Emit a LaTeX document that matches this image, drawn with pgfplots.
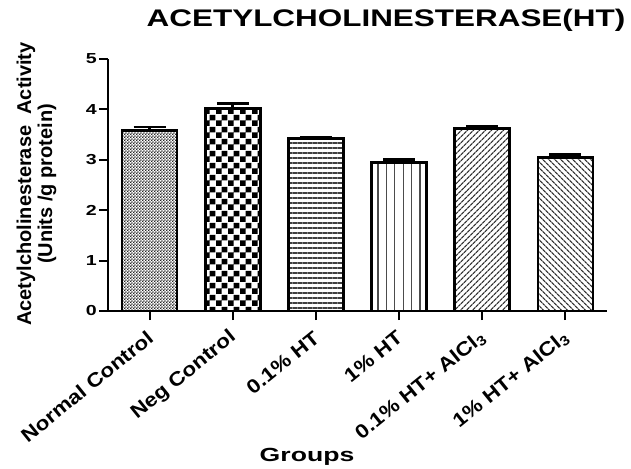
\documentclass[border=0pt]{standalone}
\usepackage{pgfplots}
\pgfplotsset{compat=1.18}
\usepackage{fontspec}
\setmainfont{Liberation Sans}
\usetikzlibrary{patterns,patterns.meta}

\pgfdeclarepattern{
  name=fineCheck, type=uncolored,
  bottom left={\pgfpoint{0pt}{0pt}}, top right={\pgfpoint{3.2pt}{3.2pt}},
  tile size={\pgfpoint{3.2pt}{3.2pt}},
  code={
    \pgfpathrectangle{\pgfpoint{0pt}{0pt}}{\pgfpoint{1.6pt}{1.6pt}}
    \pgfpathrectangle{\pgfpoint{1.6pt}{1.6pt}}{\pgfpoint{1.6pt}{1.6pt}}
    \pgfusepath{fill}
  }
}
\pgfdeclarepattern{
  name=coarseCheck, type=uncolored,
  bottom left={\pgfpoint{0pt}{0pt}}, top right={\pgfpoint{12pt}{11.6pt}},
  tile size={\pgfpoint{12pt}{11.6pt}},
  code={
    \pgfpathrectangle{\pgfpoint{0pt}{0pt}}{\pgfpoint{6pt}{5.8pt}}
    \pgfpathrectangle{\pgfpoint{6pt}{5.8pt}}{\pgfpoint{6pt}{5.8pt}}
    \pgfusepath{fill}
  }
}

\begin{document}
\begin{tikzpicture}
\path[use as bounding box] (0pt,0pt) rectangle (631pt,468pt);
\begin{axis}[
  at={(108pt,157pt)}, anchor=south west,
  scale only axis, width=499pt, height=252pt,
  xmin=-0.5, xmax=5.5, ymin=0, ymax=5,
  axis x line=bottom, axis y line=left,
  axis line style={-, line width=2pt, black},
  tick align=outside, major tick length=9pt,
  tick style={line width=2pt, black},
  xtick={0,1,2,3,4,5},
  xticklabels={Normal Control, Neg Control, 0.1\% HT, 1\% HT, 0.1\% HT+ AlCl\textsubscript{3}, 1\% HT+ AlCl\textsubscript{3}},
  ytick={0,1,2,3,4,5},
  yticklabels={0,1,2,3,4,5},
  yticklabel style={font=\bfseries\fontsize{14.5}{14.5}\selectfont, inner sep=0pt, anchor=east, xshift=-2pt, xscale=1.35},
  xticklabel style={font=\bfseries\fontsize{19.5}{19.5}\selectfont, inner sep=0pt, anchor=east, xshift=1pt, yshift=-15pt, rotate=39, xscale=1.15},
  ybar, bar width=55pt, bar shift=0pt,
  clip=false,
  error bars/error bar style={line width=2.8pt, black},
  error bars/error mark options={rotate=90, mark size=16pt, line width=2.8pt, black},
]
\addplot[draw=black, line width=2.8pt, pattern=fineCheck, pattern color=black!85,
  error bars/.cd, y dir=plus, y explicit] coordinates {(0,3.58) +- (0,0.07)};
\addplot[draw=black, line width=2.8pt, pattern=coarseCheck, pattern color=black,
  error bars/.cd, y dir=plus, y explicit] coordinates {(1,4.01) +- (0,0.10)};
\addplot[draw=black, line width=2.8pt, pattern={Lines[angle=0, distance=5pt, line width=1.2pt]}, pattern color=black!75,
  error bars/.cd, y dir=plus, y explicit] coordinates {(2,3.42) +- (0,0.015)};
\addplot[draw=black, line width=2.8pt, pattern={Lines[angle=90, distance=8.4pt, line width=1.2pt]}, pattern color=black!70,
  error bars/.cd, y dir=plus, y explicit] coordinates {(3,2.94) +- (0,0.06)};
\addplot[draw=black, line width=2.8pt, pattern={Lines[angle=45, distance=4pt, line width=1.3pt]}, pattern color=black!80,
  error bars/.cd, y dir=plus, y explicit] coordinates {(4,3.62) +- (0,0.04)};
\addplot[draw=black, line width=2.8pt, pattern={Lines[angle=-45, distance=4pt, line width=1.3pt]}, pattern color=black!80,
  error bars/.cd, y dir=plus, y explicit] coordinates {(5,3.05) +- (0,0.05)};
\end{axis}
\node[anchor=base, inner sep=0pt, font=\bfseries\fontsize{24}{24}\selectfont, xscale=1.31] at (386pt,441pt) {ACETYLCHOLINESTERASE(HT)};
\node[anchor=base, inner sep=0pt, rotate=90, font=\bfseries\fontsize{20}{20}\selectfont] at (31pt,284pt) {Acetylcholinesterase\ \ Activity};
\node[anchor=base, inner sep=0pt, rotate=90, font=\bfseries\fontsize{20}{20}\selectfont] at (52pt,284pt) {(Units /g protein)};
\node[anchor=base, inner sep=0pt, font=\bfseries\fontsize{19}{19}\selectfont, xscale=1.4] at (307pt,7pt) {Groups};
\end{tikzpicture}
\end{document}
